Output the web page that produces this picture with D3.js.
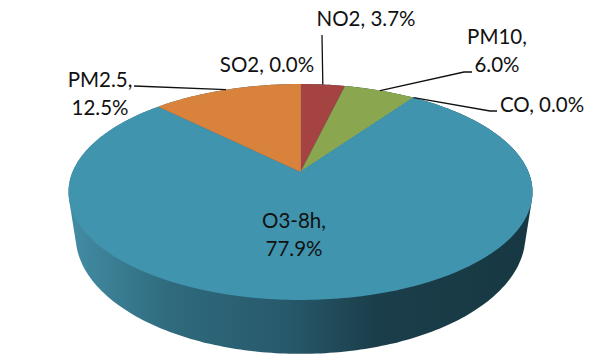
<!DOCTYPE html>
<html><head><meta charset="utf-8">
<script src="https://cdn.jsdelivr.net/npm/d3@7"></script>
<style>html,body{margin:0;padding:0;background:#fff}svg{display:block}text{font-family:Lato,"Open Sans",sans-serif;font-size:20.5px;fill:#111}</style>
</head><body><svg width="600" height="360"></svg>
<script>
const categories = ["SO2","NO2","PM10","CO","O3-8h","PM2.5"];
const values = [0.0,3.7,6.0,0.0,77.9,12.5];
const colors = ["#c9a0a0","#a54343","#8aa64e","#3f93ad","#4094ae","#d9823b"];
const labelLines = [["SO2, 0.0%"],["NO2, 3.7%"],["PM10,","6.0%"],["CO, 0.0%"],["O3-8h,","77.9%"],["PM2.5,","12.5%"]];
const labelPos = [[267,72],[366,26],[497,44],[542,112],[294,228],[100,87]];
const elbows = [null,[322,35],[464,72],[490,111],null,[134,86]];

const svg = d3.select("svg");
const k = 0.185;
const topFace = {cx:300.5, cy:172, rx:228, ry:104.3};
const baseFace = {cx:300.5, cy:214, rx:221, ry:114};
const project = (f,a) => {
  const u = Math.sin(a), v = -Math.cos(a), w = 1 - k*v;
  return [f.cx + f.rx*u/w, f.cy + f.ry*v/w];
};
const rim = (f,a0,a1) => d3.range(0,1.0001,1/Math.max(2,Math.ceil((a1-a0)*60))).map(t=>project(f,a0+(a1-a0)*t));
const arcs = d3.pie().sort(null).value(d=>d)(values);

// side wall
const grad = svg.append("defs").append("linearGradient").attr("id","wall")
  .attr("gradientUnits","userSpaceOnUse").attr("x1",69).attr("x2",532).attr("y1",0).attr("y2",0);
[[0,"#438da4"],[0.22,"#2f6a7d"],[0.47,"#27596b"],[0.66,"#1b3e4b"],[1,"#173842"]].forEach(s=>
  grad.append("stop").attr("offset",s[0]).attr("stop-color",s[1]));
const line = d3.line();
const hull = d3.polygonHull(rim(topFace,0,2*Math.PI).concat(rim(baseFace,0,2*Math.PI)));
svg.append("path").attr("d",line(hull)+"Z").attr("fill","url(#wall)");

// top face
svg.append("g").selectAll("path").data(arcs).join("path")
  .attr("d",d=>line([[topFace.cx,topFace.cy],...rim(topFace,d.startAngle,d.endAngle)])+"Z")
  .attr("fill",(d,i)=>colors[i])
  .attr("stroke",(d,i)=>d.value===0?colors[i]:"none").attr("stroke-width",1);

// leader lines
const mid = d=>project(topFace,(d.startAngle+d.endAngle)/2);
svg.append("g").selectAll("path").data(arcs.filter((d,i)=>elbows[i])).join("path")
  .attr("d",d=>{const i=arcs.indexOf(d),e=elbows[i];
    const end=i===2?[[e[0]+8,e[1]]]:i===3?[[e[0]+7,e[1]]]:[];
    return line([mid(d),e,...end]);})
  .attr("fill","none").attr("stroke","#111").attr("stroke-width",1.3);

// labels
const lab = svg.append("g").selectAll("text").data(labelLines).join("text")
  .attr("text-anchor","middle")
  .attr("transform",(d,i)=>`translate(${labelPos[i]})`);
lab.selectAll("tspan").data(d=>d).join("tspan").attr("x",0).attr("dy",(d,i)=>i?27.5:0).text(d=>d);
</script></body></html>
